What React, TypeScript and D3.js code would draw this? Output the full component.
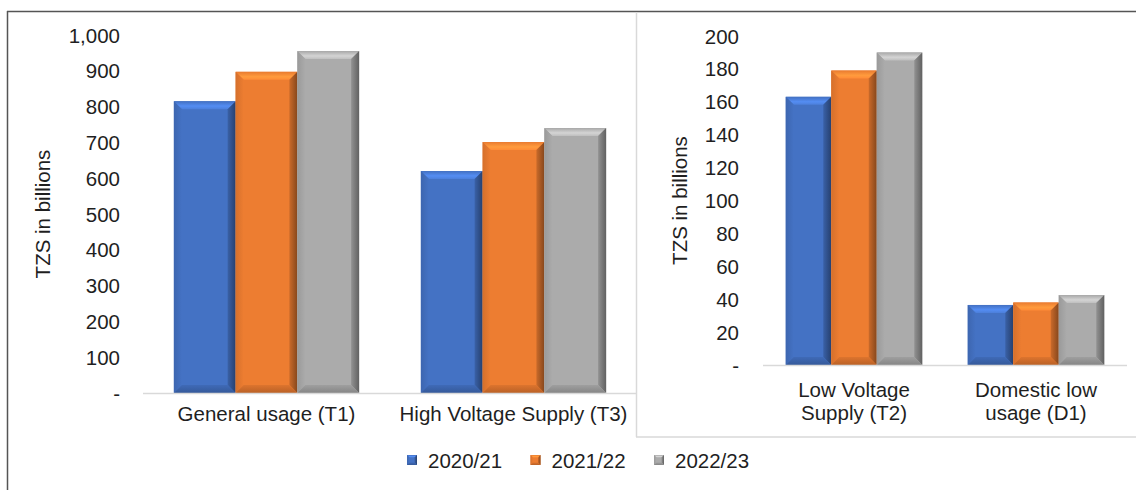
import React from 'react';
import * as d3 from 'd3';

const seriesNames = ['2020/21', '2021/22', '2022/23'];
const seriesColors = ['#4472C4', '#ED7D31', '#ABABAB'];

const leftCategories = [['General usage (T1)'], ['High Voltage Supply (T3)']];
const left2020 = [815, 620];
const left2021 = [897, 701];
const left2022 = [955, 740];

const rightCategories = [['Low Voltage', 'Supply (T2)'], ['Domestic low', 'usage (D1)']];
const right2020 = [163, 36.5];
const right2021 = [179, 38];
const right2022 = [190, 42.5];

const FONT = '"Liberation Sans", Arial, sans-serif';
const TEXT = '#1f1f1f';
const FS = 20.5;

const fmt = (v: number) => (v === 0 ? '-' : d3.format(',')(v));

type Geo = {
  x0: number;
  x1: number;
  yTop: number;
  yBottom: number;
  tickX: number;
  titleX: number;
  labelY: number;
};

const Bar = ({ x, y, w, h, ci }: { x: number; y: number; w: number; h: number; ci: number }) => {
  const b = Math.min(8, h / 2, w / 4);
  const base = seriesColors[ci];
  const pts = (a: number[][]) => a.map((p) => p.join(',')).join(' ');
  return (
    <g>
      <rect x={x} y={y} width={w} height={h} fill={base} />
      <polygon
        points={pts([[x, y], [x + w, y], [x + w - b, y + b], [x + b, y + b]])}
        fill={`url(#top${ci})`}
      />
      <polygon
        points={pts([[x, y], [x + b, y + b], [x + b, y + h - b], [x, y + h]])}
        fill={`url(#left${ci})`}
      />
      <polygon
        points={pts([[x + w, y], [x + w, y + h], [x + w - b, y + h - b], [x + w - b, y + b]])}
        fill={`url(#right${ci})`}
      />
      <polygon
        points={pts([[x, y + h], [x + w, y + h], [x + w - b, y + h - b], [x + b, y + h - b]])}
        fill={`url(#bot${ci})`}
      />
    </g>
  );
};

const Panel = ({
  categories,
  series,
  max,
  geo,
}: {
  categories: string[][];
  series: number[][];
  max: number;
  geo: Geo;
}) => {
  const y = d3.scaleLinear().domain([0, max]).range([geo.yBottom, geo.yTop]);
  const x0 = d3
    .scaleBand<number>()
    .domain(categories.map((_, i) => i))
    .range([geo.x0, geo.x1]);
  const bw = x0.bandwidth();
  const x1 = d3
    .scaleBand<number>()
    .domain(series.map((_, i) => i))
    .range([bw * 0.125, bw * 0.875]);
  const ticks = y.ticks(10);
  return (
    <g>
      {ticks.map((t) => (
        <text
          key={t}
          x={geo.tickX}
          y={y(t)}
          textAnchor="end"
          dominantBaseline="central"
          fontSize={FS}
          fill={TEXT}
        >
          {fmt(t)}
        </text>
      ))}
      <text
        transform={`translate(${geo.titleX},${(geo.yTop + geo.yBottom) / 2}) rotate(-90)`}
        textAnchor="middle"
        dominantBaseline="central"
        fontSize={FS}
        fill={TEXT}
      >
        TZS in billions
      </text>
      {categories.map((_, c) =>
        series.map((s, si) => {
          const bx = (x0(c) as number) + (x1(si) as number);
          const by = y(s[c]);
          return <Bar key={`${c}-${si}`} x={bx} y={by} w={x1.bandwidth()} h={geo.yBottom - by} ci={si} />;
        })
      )}
      <line x1={geo.x0} x2={geo.x1} y1={geo.yBottom + 0.5} y2={geo.yBottom + 0.5} stroke="#d9d9d9" strokeWidth={1.5} />
      {categories.map((lines, c) => (
        <text
          key={c}
          x={(x0(c) as number) + bw / 2}
          y={geo.labelY - ((lines.length - 1) * 23) / 2}
          textAnchor="middle"
          dominantBaseline="central"
          fontSize={FS}
          fill={TEXT}
        >
          {lines.map((l, i) => (
            <tspan key={i} x={(x0(c) as number) + bw / 2} dy={i === 0 ? 0 : 23}>
              {l}
            </tspan>
          ))}
        </text>
      ))}
    </g>
  );
};

const App = () => {
  const defs = seriesColors.map((c, i) => {
    const col = d3.color(c)!;
    return (
      <g key={i}>
        <linearGradient id={`top${i}`} x1="0" y1="0" x2="0" y2="1">
          <stop offset="0" stopColor={col.darker(0.05).formatHex()} />
          <stop offset="0.6" stopColor={col.brighter(0.6).formatHex()} />
          <stop offset="1" stopColor={col.brighter(0.3).formatHex()} />
        </linearGradient>
        <linearGradient id={`left${i}`} x1="0" y1="0" x2="1" y2="0">
          <stop offset="0" stopColor={col.darker(0.3).formatHex()} />
          <stop offset="1" stopColor={col.formatHex()} />
        </linearGradient>
        <linearGradient id={`right${i}`} x1="0" y1="0" x2="1" y2="0">
          <stop offset="0" stopColor={col.darker(0.45).formatHex()} />
          <stop offset="1" stopColor={col.darker(1.6).formatHex()} />
        </linearGradient>
        <linearGradient id={`bot${i}`} x1="0" y1="0" x2="0" y2="1">
          <stop offset="0" stopColor={col.darker(0.2).formatHex()} />
          <stop offset="1" stopColor={col.darker(0.7).formatHex()} />
        </linearGradient>
      </g>
    );
  });

  return (
    <svg
      width={1136}
      height={490}
      style={{ position: 'absolute', left: 0, top: 0, background: '#fff', fontFamily: FONT }}
    >
      <defs>{defs}</defs>
      <rect width={1136} height={490} fill="#fff" />
      <line x1={7.5} x2={7.5} y1={11} y2={490} stroke="#555" strokeWidth={1.5} />
      <line x1={7} x2={1136} y1={11.5} y2={11.5} stroke="#555" strokeWidth={1.5} />
      <line x1={636.5} x2={636.5} y1={12} y2={437} stroke="#d9d9d9" strokeWidth={1.5} />
      <line x1={636} x2={1136} y1={437} y2={437} stroke="#d9d9d9" strokeWidth={1.5} />

      <Panel
        categories={leftCategories}
        series={[left2020, left2021, left2022]}
        max={1000}
        geo={{ x0: 143, x1: 637, yTop: 35, yBottom: 393, tickX: 120, titleX: 42, labelY: 413 }}
      />
      <Panel
        categories={rightCategories}
        series={[right2020, right2021, right2022]}
        max={200}
        geo={{ x0: 763, x1: 1127, yTop: 36, yBottom: 365, tickX: 739, titleX: 679, labelY: 400.5 }}
      />

      {seriesNames.map((name, i) => {
        const lx = 407 + i * 123.5;
        return (
          <g key={name}>
            <Bar x={lx} y={455} w={10} h={10} ci={i} />
            <text x={lx + 21} y={460} dominantBaseline="central" fontSize={FS} fill={TEXT}>
              {name}
            </text>
          </g>
        );
      })}
    </svg>
  );
};

export default App;
